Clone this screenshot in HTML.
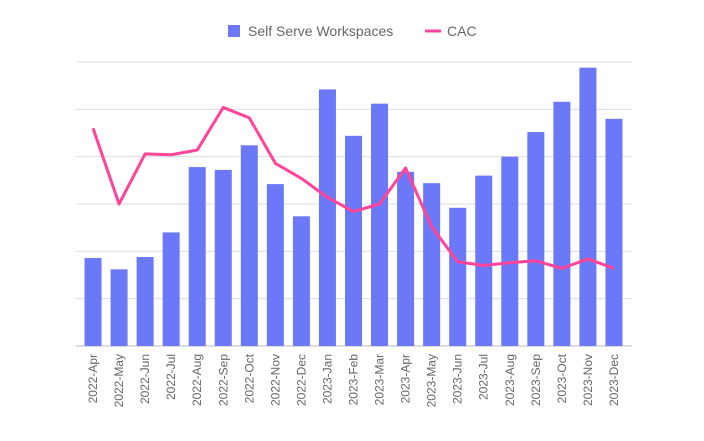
<!DOCTYPE html>
<html><head><meta charset="utf-8"><style>
body{margin:0;background:#fff;font-family:"Liberation Sans",sans-serif}
</style></head><body>
<svg id="c" width="704" height="436" xmlns="http://www.w3.org/2000/svg"></svg>
<script>
const categories=["2022-Apr","2022-May","2022-Jun","2022-Jul","2022-Aug","2022-Sep","2022-Oct","2022-Nov","2022-Dec","2023-Jan","2023-Feb","2023-Mar","2023-Apr","2023-May","2023-Jun","2023-Jul","2023-Aug","2023-Sep","2023-Oct","2023-Nov","2023-Dec"];
const workspaces=[93,81,94,120,189,186,212,171,137,271,222,256,184,172,146,180,200,226,258,294,240];
const cac=[230,150,203,202,207,252,241,193,177,157,142,150,188,126,89,85,88,90,82,92,82];
const yTicks=[0,50,100,150,200,250,300];
const NS="http://www.w3.org/2000/svg";
const svg=document.getElementById('c');
const L=80,R=627,T=62,B=346,yMax=300;
const band=(R-L)/categories.length;
const x=i=>L+band*(i+0.5);
const y=v=>B-(v/yMax)*(B-T);
function el(t,a){const e=document.createElementNS(NS,t);for(const k in a)e.setAttribute(k,a[k]);svg.appendChild(e);return e;}
yTicks.forEach(t=>{const g=el('line',{x1:76,x2:632,y1:y(t),y2:y(t),stroke:t===0?'#bbb':'#ddd','stroke-width':1});

});
workspaces.forEach((v,i)=>{const r=el('rect',{x:x(i)-8.5,y:y(v),width:17,height:B-y(v),fill:'#6b78f7'});

});
const p=el('polyline',{points:cac.map((v,i)=>x(i)+','+y(v)).join(' '),fill:'none',stroke:'#ff4499','stroke-width':3,'stroke-linejoin':'round'});


categories.forEach((c,i)=>{const t=el('text',{x:0,y:0,transform:`translate(${x(i)+4},354) rotate(-90)`,'text-anchor':'end','font-size':12,fill:'#666'});t.textContent=c;

});
const ls=el('rect',{x:228,y:25,width:12,height:12,fill:'#6b78f7'});


const lt=el('text',{x:248,y:36,'font-size':14,fill:'#666'});lt.textContent='Self Serve Workspaces';


const ll=el('line',{x1:425,x2:441,y1:31,y2:31,stroke:'#ff4499','stroke-width':3});


const lc=el('text',{x:447,y:36,'font-size':14,fill:'#666'});lc.textContent='CAC';


</script>
</body></html>
